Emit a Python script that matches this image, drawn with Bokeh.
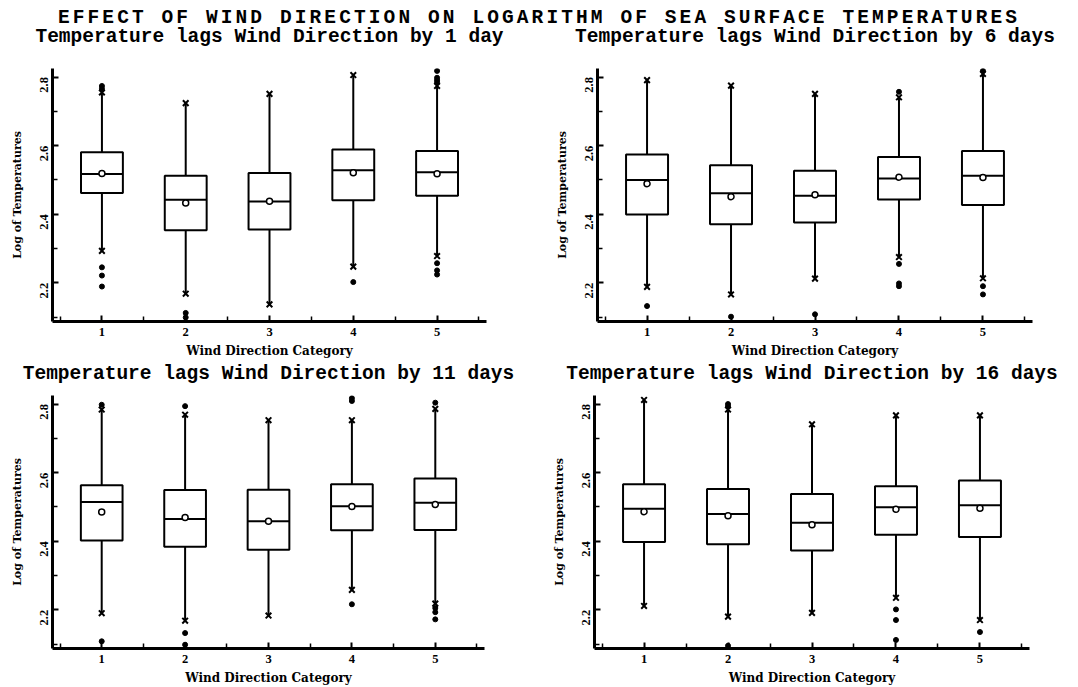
from bokeh.plotting import figure
from bokeh.layouts import column, row
from bokeh.models import Div, FixedTicker, Range1d
from bokeh.embed import file_html
from bokeh.resources import INLINE

MAIN_TITLE = "EFFECT OF WIND DIRECTION ON LOGARITHM OF SEA SURFACE TEMPERATURES"
PANEL_TITLES = [
    "Temperature lags Wind Direction by 1 day",
    "Temperature lags Wind Direction by 6 days",
    "Temperature lags Wind Direction by 11 days",
    "Temperature lags Wind Direction by 16 days",
]
X_LABEL = "Wind Direction Category"
Y_LABEL = "Log of Temperatures"
CATEGORIES = [1, 2, 3, 4, 5]
X_TICKS = [1, 2, 3, 4, 5]
X_MINOR_TICKS = [0.5, 1.5, 2.5, 3.5, 4.5, 5.5]
Y_TICKS = [2.2, 2.4, 2.6, 2.8]
Y_MINOR_TICKS = [2.1, 2.3, 2.5, 2.7]

# lag 1 day
LAG1_Q1 = [2.462, 2.353, 2.355, 2.441, 2.454]
LAG1_MED = [2.517, 2.442, 2.437, 2.528, 2.522]
LAG1_Q3 = [2.581, 2.512, 2.520, 2.589, 2.584]
LAG1_MEAN = [2.519, 2.433, 2.438, 2.521, 2.518]
LAG1_WLO = [2.293, 2.168, 2.137, 2.247, 2.278]
LAG1_WHI = [2.755, 2.724, 2.751, 2.806, 2.774]
LAG1_OUT_CAT = [1, 1, 1, 1, 1, 2, 2, 4, 5, 5, 5, 5, 5, 5, 5]
LAG1_OUT_VAL = [2.774, 2.766, 2.245, 2.221, 2.189, 2.112, 2.099, 2.202,
                2.818, 2.798, 2.791, 2.784, 2.257, 2.236, 2.224]

# lag 6 days
LAG6_Q1 = [2.399, 2.371, 2.376, 2.443, 2.427]
LAG6_MED = [2.500, 2.461, 2.454, 2.504, 2.512]
LAG6_Q3 = [2.574, 2.543, 2.527, 2.567, 2.584]
LAG6_MEAN = [2.489, 2.451, 2.457, 2.508, 2.507]
LAG6_WLO = [2.188, 2.166, 2.212, 2.275, 2.213]
LAG6_WHI = [2.791, 2.775, 2.751, 2.741, 2.809]
LAG6_OUT_CAT = [1, 2, 3, 4, 4, 4, 4, 5, 5, 5]
LAG6_OUT_VAL = [2.132, 2.101, 2.108, 2.757, 2.255, 2.198, 2.190, 2.818, 2.190, 2.166]

# lag 11 days
LAG11_Q1 = [2.402, 2.384, 2.375, 2.432, 2.433]
LAG11_MED = [2.514, 2.465, 2.458, 2.502, 2.512]
LAG11_Q3 = [2.563, 2.549, 2.550, 2.566, 2.583]
LAG11_MEAN = [2.485, 2.469, 2.458, 2.501, 2.507]
LAG11_WLO = [2.190, 2.168, 2.183, 2.258, 2.218]
LAG11_WHI = [2.784, 2.769, 2.753, 2.753, 2.786]
LAG11_OUT_CAT = [1, 1, 2, 2, 2, 4, 4, 4, 5, 5, 5, 5]
LAG11_OUT_VAL = [2.798, 2.108, 2.794, 2.132, 2.098, 2.817, 2.809, 2.216,
                 2.804, 2.205, 2.193, 2.172]

# lag 16 days
LAG16_Q1 = [2.398, 2.391, 2.373, 2.419, 2.412]
LAG16_MED = [2.495, 2.479, 2.454, 2.499, 2.505]
LAG16_Q3 = [2.566, 2.552, 2.538, 2.560, 2.577]
LAG16_MEAN = [2.486, 2.474, 2.448, 2.493, 2.496]
LAG16_WLO = [2.211, 2.180, 2.191, 2.235, 2.170]
LAG16_WHI = [2.812, 2.784, 2.741, 2.767, 2.767]
LAG16_OUT_CAT = [2, 2, 2, 4, 4, 4, 5]
LAG16_OUT_VAL = [2.800, 2.793, 2.095, 2.201, 2.170, 2.112, 2.135]

BOX_WIDTH = 0.5
TITLE_FONT = "Liberation Mono"
LABEL_FONT = "DejaVu Serif"
TICK_FONT = "Liberation Serif"


def make_panel(title, q1, med, q3, mean, wlo, whi, out_cat, out_val,
               width, height, b_left, b_right, b_top, b_bottom, t_standoff):
    p = figure(width=width, height=height,
               x_range=Range1d(0.41, 5.59), y_range=Range1d(2.087, 2.825),
               output_backend="svg", toolbar_location=None,
               min_border_left=b_left, min_border_right=b_right,
               min_border_top=b_top, min_border_bottom=b_bottom,
               background_fill_color="white", border_fill_color=None,
               margin=0)
    p.title.text = title
    p.title.align = "center"
    p.title.text_font = TITLE_FONT
    p.title.text_font_size = "19.5px"
    p.title.text_font_style = "bold"
    p.title.text_color = "black"
    p.title.standoff = t_standoff
    p.outline_line_color = None
    p.xgrid.visible = False
    p.ygrid.visible = False

    half = BOX_WIDTH / 2
    p.segment(x0=CATEGORIES, y0=q3, x1=CATEGORIES, y1=whi, line_color="black", line_width=2)
    p.segment(x0=CATEGORIES, y0=q1, x1=CATEGORIES, y1=wlo, line_color="black", line_width=2)
    p.vbar(x=CATEGORIES, width=BOX_WIDTH, bottom=q1, top=q3,
           fill_color="white", line_color="black", line_width=2)
    p.segment(x0=[c - half for c in CATEGORIES], y0=med,
              x1=[c + half for c in CATEGORIES], y1=med,
              line_color="black", line_width=2)
    p.scatter(x=CATEGORIES, y=mean, marker="circle", size=6,
              fill_color="white", line_color="black", line_width=1.5)
    p.scatter(x=CATEGORIES + CATEGORIES, y=list(whi) + list(wlo), marker="x",
              size=8, line_color="black", line_width=2)
    p.scatter(x=out_cat, y=out_val, marker="circle", size=5,
              fill_color="black", line_color="black")

    p.xaxis.ticker = FixedTicker(ticks=X_TICKS, minor_ticks=X_MINOR_TICKS)
    p.yaxis.ticker = FixedTicker(ticks=Y_TICKS, minor_ticks=Y_MINOR_TICKS)
    for ax in (p.xaxis, p.yaxis):
        ax.axis_line_width = 3
        ax.axis_line_color = "black"
        ax.major_tick_in = 6
        ax.major_tick_out = 0
        ax.minor_tick_in = 5
        ax.minor_tick_out = 0
        ax.major_tick_line_width = 2
        ax.minor_tick_line_width = 1.5
        ax.major_tick_line_color = "black"
        ax.minor_tick_line_color = "black"
        ax.major_label_text_font = TICK_FONT
        ax.major_label_text_font_style = "bold"
        ax.major_label_text_font_size = "12.5px"
        ax.major_label_text_color = "black"
        ax.axis_label_text_font = LABEL_FONT
        ax.axis_label_text_font_style = "bold"
        ax.axis_label_text_color = "black"
    p.xaxis.axis_label = X_LABEL
    p.xaxis.axis_label_text_font_size = "12px"
    p.xaxis.major_label_standoff = 6
    p.xaxis.axis_label_standoff = 5
    p.yaxis.axis_label = Y_LABEL
    p.yaxis.axis_label_text_font_size = "11px"
    p.yaxis.major_label_orientation = 1.5707963
    p.yaxis.major_label_standoff = 8
    p.yaxis.axis_label_standoff = 10
    return p


# top row: canvas from y=2 to 360, frame 68..323.5
p1 = make_panel(PANEL_TITLES[0], LAG1_Q1, LAG1_MED, LAG1_Q3, LAG1_MEAN, LAG1_WLO, LAG1_WHI,
                LAG1_OUT_CAT, LAG1_OUT_VAL, 540, 358, 52, 54, 66, 36, 41)
p2 = make_panel(PANEL_TITLES[1], LAG6_Q1, LAG6_MED, LAG6_Q3, LAG6_MEAN, LAG6_WLO, LAG6_WHI,
                LAG6_OUT_CAT, LAG6_OUT_VAL, 538, 358, 57, 46, 66, 36, 41)
# bottom row: canvas from y=349 to 687, frame 395..648.7
p3 = make_panel(PANEL_TITLES[2], LAG11_Q1, LAG11_MED, LAG11_Q3, LAG11_MEAN, LAG11_WLO, LAG11_WHI,
                LAG11_OUT_CAT, LAG11_OUT_VAL, 540, 338, 52, 56, 46, 38, 21)
p4 = make_panel(PANEL_TITLES[3], LAG16_Q1, LAG16_MED, LAG16_Q3, LAG16_MEAN, LAG16_WLO, LAG16_WHI,
                LAG16_OUT_CAT, LAG16_OUT_VAL, 538, 338, 54, 49, 46, 38, 21)

title_div = Div(
    text=('<div style="width:1070px;padding-top:9px;padding-left:8px;text-align:center;'
          'font-family:\'Liberation Mono\';font-weight:bold;font-size:19.5px;'
          'letter-spacing:3.1px;line-height:18px;color:black;white-space:nowrap;">'
          + MAIN_TITLE + '</div>'),
    width=1078, height=28, margin=0)

layout = column(row(title_div, margin=0),
                row(p1, p2, margin=(-26, 0, 0, 0)),
                row(p3, p4, margin=(-11, 0, 0, 0)),
                margin=0)

with open("out.html", "w") as f:
    f.write(file_html(layout, INLINE))
